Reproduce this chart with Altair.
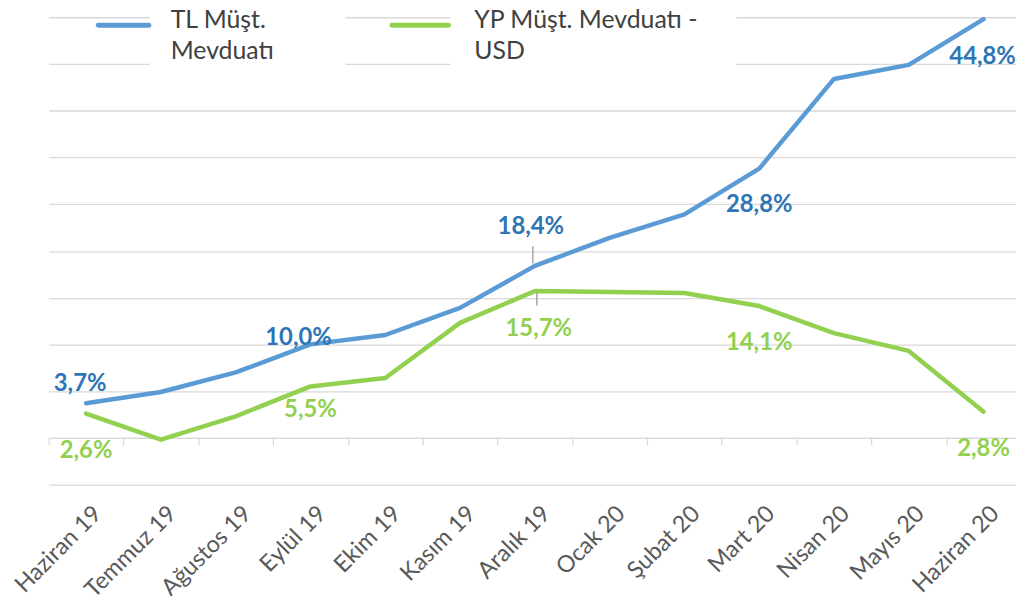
import altair as alt
import pandas as pd

months = ["Haziran 19", "Temmuz 19", "Ağustos 19", "Eylül 19", "Ekim 19", "Kasım 19",
          "Aralık 19", "Ocak 20", "Şubat 20", "Mart 20", "Nisan 20", "Mayıs 20", "Haziran 20"]
tl_values = [3.7, 4.9, 7.0, 10.0, 11.0, 13.9, 18.4, 21.4, 23.9, 28.8, 38.4, 39.9, 44.8]
yp_values = [2.6, -0.2, 2.3, 5.5, 6.4, 12.3, 15.7, 15.6, 15.5, 14.1, 11.2, 9.3, 2.8]
series_names = ["TL Müşt. Mevduatı", "YP Müşt. Mevduatı - USD"]
legend_texts = ["TL Müşt.\nMevduatı", "YP Müşt. Mevduatı -\nUSD"]

BLUE = "#5B9BD5"
BLUE_TXT = "#2E75B6"
GREEN = "#92D050"
GRID = "#D9D9D9"
FONT = "Lato"

rows = []
for s, vals in zip(series_names, [tl_values, yp_values]):
    for m, v in zip(months, vals):
        rows.append({"month": m, "series": s, "value": v,
                     "label": f"{v:.1f}".replace(".", ",") + "%"})
df = pd.DataFrame(rows)

x_enc = alt.X("month:N",
              scale=alt.Scale(type="band", domain=months, range=[0, 980],
                              paddingInner=0, paddingOuter=0),
              bandPosition=0.5,
              axis=alt.Axis(title=None, offset=-47, domainColor=GRID, domainWidth=1.3,
                            tickColor=GRID, tickWidth=1.3, tickSize=7, tickBand="extent",
                            labelAngle=-45, labelAlign="right", labelBaseline="top",
                            labelFontSize=23.5, labelFont=FONT, labelColor="#595959",
                            labelPadding=57, labelOffset=3, grid=False))
y_scale = alt.Scale(domain=[-5, 45], nice=False, zero=False)
y_axis = alt.Axis(title=None, values=list(range(-5, 50, 5)), labels=False,
                  ticks=False, domain=False, grid=True, gridColor=GRID, gridWidth=1.3)
y_enc = alt.Y("value:Q", scale=y_scale, axis=y_axis)
color_enc = alt.Color("series:N", scale=alt.Scale(domain=series_names, range=[BLUE, GREEN]),
                      legend=None)

base = alt.Chart(df)

lines = base.mark_line(strokeWidth=4.5, strokeCap="round", strokeJoin="round").encode(
    x=x_enc, y=y_enc, color=color_enc, detail="series:N")

# label offsets (dx, dy) relative to the point
label_style = {
    (series_names[0], "Haziran 19"): (-6, -19),
    (series_names[0], "Eylül 19"): (-12, -6),
    (series_names[0], "Aralık 19"): (-4, -39),
    (series_names[0], "Mart 20"): (0, 37),
    (series_names[0], "Haziran 20"): (-1, 38),
    (series_names[1], "Haziran 19"): (0, 38),
    (series_names[1], "Eylül 19"): (0, 24),
    (series_names[1], "Aralık 19"): (4, 38),
    (series_names[1], "Mart 20"): (0, 37),
    (series_names[1], "Haziran 20"): (0, 38),
}

label_layers = []
for (s, m), (dx, dy) in label_style.items():
    col = BLUE_TXT if s == series_names[0] else GREEN
    label_layers.append(
        base.transform_filter(
            (alt.datum.series == s) & (alt.datum.month == m)
        ).mark_text(font=FONT, fontSize=24, fontWeight="bold", color=col,
                    dx=dx, dy=dy, baseline="middle", align="center").encode(
            x=x_enc, y=y_enc, text="label:N")
    )

# leader lines for the December labels
leader_blue = base.transform_filter(
    (alt.datum.series == series_names[0]) & (alt.datum.month == "Aralık 19")
).transform_calculate(y_a="datum.value + 0.25", y_b="datum.value + 2.1").mark_rule(
    color="#A6A6A6", strokeWidth=1.5, xOffset=-2).encode(
    x=x_enc, y=alt.Y("y_a:Q", scale=y_scale, axis=y_axis), y2="y_b:Q")
leader_green = base.transform_filter(
    (alt.datum.series == series_names[1]) & (alt.datum.month == "Aralık 19")
).transform_calculate(y_a="datum.value - 0.2", y_b="datum.value - 1.55").mark_rule(
    color="#A6A6A6", strokeWidth=1.5, xOffset=2).encode(
    x=x_enc, y=alt.Y("y_a:Q", scale=y_scale, axis=y_axis), y2="y_b:Q")

# manual legend
leg_df = pd.DataFrame({"series": series_names, "text": legend_texts})
leg_base = alt.Chart(leg_df)
legend_layers = []
leg_pos = [(50, 101, 102, 299, 123), (346, 403, 405, 693, 429)]
for i, (s0, s1, w0, w1, tx) in enumerate(leg_pos):
    col = BLUE if i == 0 else GREEN
    sel = leg_base.transform_filter(alt.datum.series == series_names[i])
    legend_layers.append(sel.mark_rect(color="white").encode(
        x=alt.value(w0), x2=alt.value(w1), y=alt.value(-8), y2=alt.value(56)))
    legend_layers.append(sel.mark_rule(color=col, strokeWidth=5, strokeCap="round").encode(
        x=alt.value(s0), x2=alt.value(s1), y=alt.value(8)))
    legend_layers.append(sel.mark_text(font=FONT, fontSize=25, color="#404040", align="left",
                                       baseline="alphabetic", lineBreak="\n", lineHeight=31).encode(
        x=alt.value(tx), y=alt.value(11), text="text:N"))

chart = alt.layer(lines, *legend_layers, leader_blue, leader_green, *label_layers).properties(
    width=975, height=471,
    padding={"left": 41, "top": 7, "right": 0, "bottom": 110},
    autosize=alt.AutoSizeParams(type="none"),
).configure_view(stroke=None)

chart.save("out.html", embed_options={"renderer": "svg", "actions": False})
